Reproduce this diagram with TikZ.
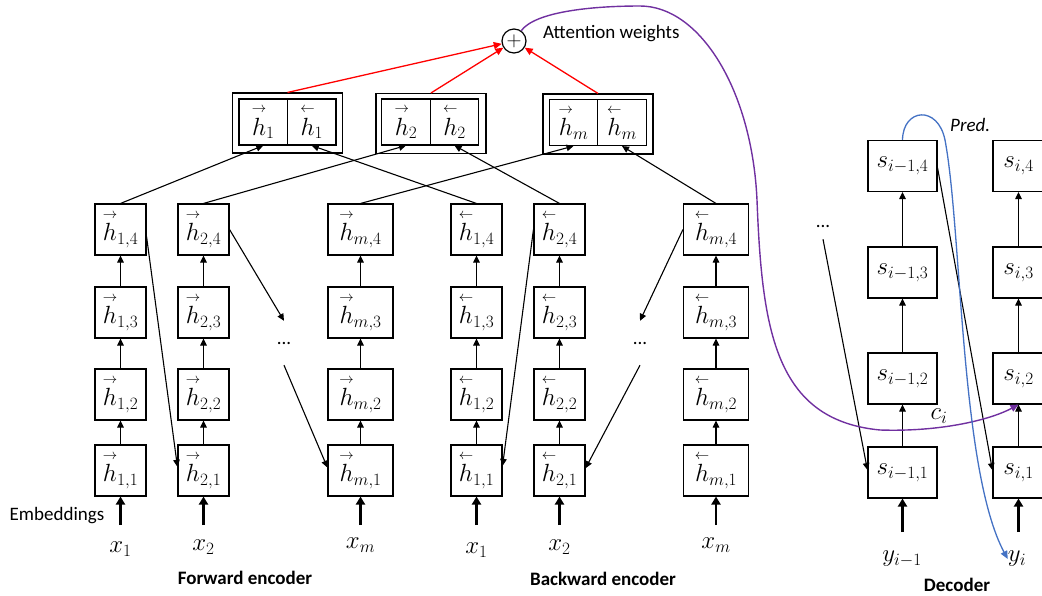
\documentclass[tikz,border=0pt]{standalone}
\usepackage{amsmath}
\usepackage{fontspec}
\setmainfont{Carlito}
\usetikzlibrary{arrows.meta}
\definecolor{attred}{RGB}{255,0,0}
\definecolor{ctxpurple}{RGB}{112,48,160}
\definecolor{predblue}{RGB}{68,114,196}
\newcommand\mathsz{\fontsize{27}{32}\selectfont}
\newcommand\txtsz{\fontsize{19}{23}\selectfont}
\newcommand\fwdh{\overset{\scriptscriptstyle\rightarrow}{h}}
\newcommand\bwdh{\overset{\scriptscriptstyle\leftarrow}{h}}
\begin{document}
\begin{tikzpicture}[x=1pt,y=-1pt,
 cell/.style={draw,line width=1.1pt,minimum width=51pt,minimum height=51pt,inner sep=0pt,font=\mathsz},
 wcell/.style={cell,minimum width=65pt},
 dcell/.style={cell,minimum width=69pt},
 tcell/.style={cell,minimum width=48.5pt,minimum height=46pt},
 tbox/.style={draw,line width=1.1pt,minimum width=110pt,minimum height=60pt,inner sep=0pt},
 arr/.style={line width=1.1pt,-{Triangle[length=7pt,width=6.5pt]}},
 emb/.style={line width=2.4pt,-{Triangle[length=8pt,width=9pt]}},
 redarr/.style={attred,line width=1.3pt,-{Triangle[length=8pt,width=7pt]}},
 lbl/.style={font=\txtsz,inner sep=0pt},
 mlbl/.style={font=\mathsz,inner sep=0pt},
 dotsn/.style={font=\txtsz,minimum height=44pt,inner sep=0pt},
]
\useasboundingbox (0,0) rectangle (1042,595);
\clip (0,0) rectangle (1042,595);

% ---------- encoder cells ----------
\foreach \r/\y in {1/470.5,2/394.5,3/312.5,4/229.5} {
  \node[cell]  (f1\r) at (120.5,\y) {$\fwdh_{1,\r}$};
  \node[cell]  (f2\r) at (203.5,\y) {$\fwdh_{2,\r}$};
  \node[wcell] (fm\r) at (360.5,\y) {$\fwdh_{m,\r}$};
  \node[cell]  (b1\r) at (476.5,\y) {$\bwdh_{1,\r}$};
  \node[cell]  (b2\r) at (559.5,\y) {$\bwdh_{2,\r}$};
  \node[wcell] (bm\r) at (716,\y)   {$\bwdh_{m,\r}$};
}
\foreach \c in {f1,f2,fm,b1,b2,bm} {
  \foreach \a/\b in {1/2,2/3,3/4} {
    \draw[arr] (\c\a) -- (\c\b);
  }
}

% ---------- inputs ----------
\foreach \c/\x/\lab/\ly in {f1/120.5/x_1/549,f2/203.5/x_2/547,fm/360.5/x_m/545,b1/476.5/x_1/550,b2/559.5/x_2/547,bm/716/x_m/545} {
  \coordinate (in\c) at (\x,525);
  \draw[emb] (in\c) -- (\c1);
  \node[mlbl] (lab\c) at (\x,\ly) {$\lab$};
}
\node[lbl] (embtxt) at (57,516) {Embeddings};
\node[lbl,font=\txtsz\bfseries] (fwdtxt) at (245,578) {Forward encoder};
\node[lbl,font=\txtsz\bfseries] (bwdtxt) at (603,579) {Backward encoder};

% ---------- dots and skip connections ----------
\node[dotsn] (dotsF) at (284,343) {...};
\node[dotsn] (dotsB) at (640,343) {...};
\draw[arr] (f14.-15) -- (f21.172);
\draw[arr] (f24.east) -- (dotsF.north);
\draw[arr] (dotsF.south) -- (fm1.175);
\draw[arr] (b24.west) -- (b11.10);
\draw[arr] (bm4.west) -- (dotsB.north);
\draw[arr] (dotsB.south) -- (b21.5);

% ---------- concatenated states ----------
\node[tbox] (t1) at (287.5,123) {};
\node[tcell] (t1f) at (263.25,122) {$\fwdh_1$};
\node[tcell] (t1b) at (311.75,122) {$\bwdh_1$};
\node[tbox] (t2) at (431,123.5) {};
\node[tcell] (t2f) at (406,122) {$\fwdh_2$};
\node[tcell] (t2b) at (454.5,122) {$\bwdh_2$};
\node[tbox] (tm) at (598,124) {};
\node[tcell] (tmf) at (573.5,122.5) {$\fwdh_m$};
\node[tcell] (tmb) at (622,122.5) {$\bwdh_m$};

\draw[arr] (f14.north) -- (t1f.south);
\draw[arr] (b14.north) -- (t1b.south);
\draw[arr] (f24.north) -- (t2f.south);
\draw[arr] (b24.north) -- (t2b.south);
\draw[arr] (fm4.north) -- (tmf.south);
\draw[arr] (bm4.north) -- (tmb.south);

% ---------- attention ----------
\node[draw,circle,line width=1.2pt,minimum size=24pt,inner sep=0pt,font=\fontsize{20}{24}\selectfont] (plus) at (514,41) {$+$};
\node[lbl,anchor=west] (atttxt) at (543,34) {Attention weights};
\draw[redarr] (t1.north) -- (plus);
\draw[redarr] (t2.north) -- (plus);
\draw[redarr] (tm.north) -- (plus);

% ---------- decoder ----------
\foreach \r/\y in {1/472.5,2/378.5,3/272.5,4/166} {
  \node[dcell] (d\r) at (902.5,\y) {$s_{i-1,\r}$};
  \node[cell]  (e\r) at (1018.5,\y) {$s_{i,\r}$};
}
\foreach \c in {d,e} {
  \foreach \a/\b in {1/2,2/3,3/4} {
    \draw[arr] (\c\a) -- (\c\b);
  }
}
\coordinate (ind) at (902.5,532);
\coordinate (ine) at (1018.5,532);
\draw[emb] (ind) -- (d1);
\draw[emb] (ine) -- (e1);
\node[mlbl] (ylab1) at (902,559) {$y_{i-1}$};
\node[mlbl] (ylab2) at (1017,559) {$y_i$};
\node[lbl,font=\txtsz\bfseries] (dectxt) at (957,585) {Decoder};

\node[dotsn,minimum height=26pt] (dotsD) at (823,226) {...};
\draw[arr] (dotsD.south) -- (d1.176);
\draw[arr] (d4.-3) -- (e1.175);

% context vector
\draw[ctxpurple,line width=1.4pt,-{Triangle[length=8pt,width=7pt]}]
  (plus.55) .. controls (535,12) and (590,6) .. (640,6)
  .. controls (700,6) and (752,90) .. (757,200)
  .. controls (762,330) and (775,420) .. (880,430)
  .. controls (940,432) and (990,420) .. (e2.south);
\node[font=\fontsize{24}{28}\selectfont,inner sep=0pt] (clab) at (939,416) {$c_i$};

% prediction
\draw[predblue,line width=1.3pt,-{Triangle[length=8pt,width=7pt]}]
  (d4.north) .. controls (903,108) and (938,105) .. (945,140)
  .. controls (962,230) and (960,470) .. (ylab2.west);
\node[lbl,font=\txtsz\itshape,anchor=west] (predtxt) at (950,125) {Pred.};
\end{tikzpicture}
\end{document}
